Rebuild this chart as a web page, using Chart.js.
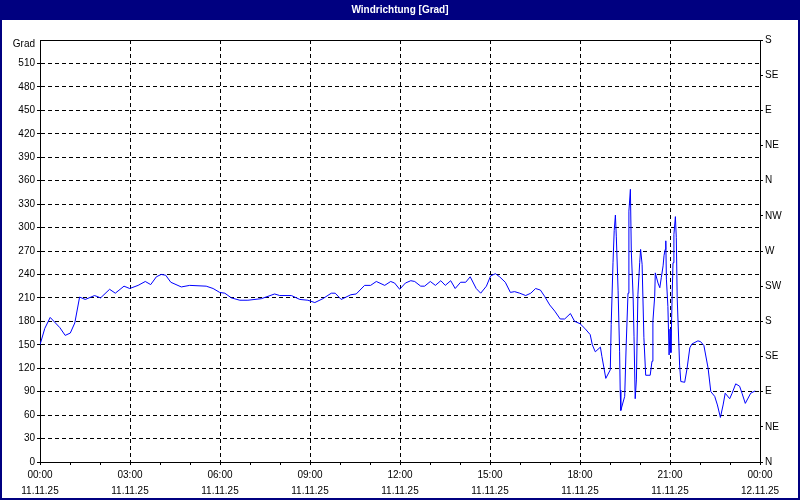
<!DOCTYPE html>
<html>
<head>
<meta charset="utf-8">
<script src="https://cdn.jsdelivr.net/npm/chart.js@4"></script>
<style>
html,body{margin:0;padding:0;background:#fff;}
#wrap{width:800px;height:500px;position:relative;}
canvas{display:block;}
</style>
</head>
<body>
<div id="wrap"><canvas id="c" width="800" height="500"></canvas></div>
<script>
const chartTitle = 'Windrichtung [Grad]';
const axisUnit = 'Grad';
// time in hours since 11.11.25 00:00
const hours = [0,0.16,0.34,0.66,0.84,1.01,1.16,1.32,1.51,1.82,2.02,2.32,2.51,2.8,2.99,3.27,3.51,3.69,3.88,4.04,4.19,4.36,4.71,4.99,5.54,5.77,5.99,
 6.16,6.38,6.66,6.93,7.38,7.82,7.99,8.38,8.66,8.93,9.16,9.43,9.71,9.84,10.04,10.36,10.54,10.82,11.02,11.21,11.49,11.69,11.82,11.99,
 12.18,12.36,12.49,12.69,12.82,13.01,13.18,13.36,13.51,13.69,13.84,14.02,14.19,14.34,14.54,14.69,14.88,15.02,15.18,15.32,15.51,15.68,15.82,15.99,
 16.19,16.36,16.52,16.68,16.82,16.99,17.16,17.34,17.49,17.68,17.82,18.0,
 18.16,18.34,18.41,18.51,18.68,18.73,18.8,18.86,19.01,19.04,19.1,19.14,19.18,19.21,19.27,19.32,19.34,19.36,19.49,19.54,19.6,19.63,19.68,19.71,19.77,19.8,19.84,19.88,19.93,19.99,
 20.02,20.07,20.13,20.19,20.34,20.4,20.43,20.49,20.51,20.6,20.66,20.71,20.77,20.8,20.84,20.86,20.88,20.93,20.97,21.0,21.03,21.07,21.1,21.13,21.18,21.21,21.24,21.32,21.36,21.49,21.57,21.66,21.73,21.93,
 22.02,22.13,22.27,22.36,22.49,22.58,22.68,22.77,22.84,22.99,23.07,23.19,23.32,23.4,23.51,23.69,23.84];
const degrees = [150,171,185,172,162,165,178,211,208,213,210,221,216,225,222,226,231,227,237,240,239,230,224,226,225,222,217,
 216,210,207,207,209,215,213,213,208,207,204,209,216,216,208,214,215,226,226,231,226,231,229,221,
 229,232,231,225,225,231,226,232,226,232,222,230,230,237,222,216,225,238,241,237,230,217,218,216,
 213,216,222,220,212,201,193,183,183,190,180,177,
 171,163,150,141,147,135,120,107,118,176,255,296,316,289,219,141,92,66,84,150,216,321,349,270,212,161,81,105,214,255,
 272,253,159,111,111,129,180,212,242,229,223,236,251,264,272,283,234,199,137,170,140,210,255,291,314,287,210,124,103,102,120,146,151,155,
 154,149,120,90,84,73,57,73,88,81,88,100,97,88,75,88,91];
const timeLabels = {0:'00:00',3:'03:00',6:'06:00',9:'09:00',12:'12:00',15:'15:00',18:'18:00',21:'21:00',24:'00:00'};
const dateLabels = {0:'11.11.25',3:'11.11.25',6:'11.11.25',9:'11.11.25',12:'11.11.25',15:'11.11.25',18:'11.11.25',21:'11.11.25',24:'12.11.25'};
const compassLabels = ['N','NE','E','SE','S','SW','W','NW','N','NE','E','SE','S'];

const NAVY = '#000080';
const framePlugin = {
  id: 'frame',
  beforeDraw(chart) {
    const c = chart.ctx;
    c.save();
    c.fillStyle = '#ffffff';
    c.fillRect(0, 0, chart.width, chart.height);
    c.fillStyle = NAVY;
    c.fillRect(0, 0, chart.width, 20);
    c.fillRect(0, 0, 2, chart.height);
    c.fillRect(chart.width - 2, 0, 2, chart.height);
    c.fillRect(0, chart.height - 2, chart.width, 2);
    c.restore();
  }
};

const font = {family: "'Liberation Sans', Arial, sans-serif", size: 10};

new Chart(document.getElementById('c'), {
  type: 'line',
  data: {
    datasets: [{
      data: hours.map((h, i) => ({x: h, y: degrees[i]})),
      borderColor: '#0000ff',
      borderWidth: 1,
      pointRadius: 0,
      tension: 0,
      fill: false,
      yAxisID: 'y'
    }]
  },
  plugins: [framePlugin],
  options: {
    responsive: false,
    animation: false,
    layout: {padding: {left: 0, right: 0, top: 0, bottom: 0}},
    plugins: {
      legend: {display: false},
      tooltip: {enabled: false},
      title: {
        display: true,
        text: chartTitle,
        color: '#ffffff',
        font: {family: "'Liberation Sans', Arial, sans-serif", size: 10, weight: 'bold', lineHeight: 1.2},
        padding: {top: 4, bottom: 24}
      }
    },
    scales: {
      x: {
        type: 'linear',
        min: 0, max: 24,
        afterFit: s => { s.height = 38; },
        ticks: {
          stepSize: 1,
          autoSkip: false,
          maxRotation: 0, minRotation: 0,
          color: '#000',
          font: Object.assign({lineHeight: 1.6}, font),
          padding: 2,
          callback: v => (timeLabels[v] !== undefined ? [timeLabels[v], dateLabels[v]] : '')
        },
        grid: {
          color: ctx => (ctx.tick && ctx.tick.value % 3 === 0) ? '#000' : 'rgba(0,0,0,0)',
          tickColor: '#000',
          tickLength: 3,
          lineWidth: 1
        },
        border: {display: true, color: '#000', width: 1, dash: ctx => (ctx.tick && (ctx.tick.value === 0 || ctx.tick.value === 24)) ? [] : [4, 3]}
      },
      y: {
        position: 'left',
        min: 0, max: 540,
        afterFit: s => { s.width = 40; },
        ticks: {
          stepSize: 30,
          color: '#000',
          font: Object.assign({lineHeight: 0.8}, font),
          padding: 2,
          callback: v => (v === 540 ? ['', axisUnit] : String(v))
        },
        grid: {
          color: '#000',
          tickColor: ctx => (ctx.tick && ctx.tick.value === 540) ? 'rgba(0,0,0,0)' : '#000',
          tickLength: 3,
          lineWidth: 1
        },
        border: {display: true, color: '#000', width: 1, dash: ctx => (ctx.tick && (ctx.tick.value === 0 || ctx.tick.value === 540)) ? [] : [4, 3]}
      },
      y2: {
        position: 'right',
        min: 0, max: 540,
        afterFit: s => { s.width = 40; },
        ticks: {
          stepSize: 45,
          color: '#000',
          font: font,
          padding: 2,
          callback: (v) => compassLabels[Math.round(v / 45)]
        },
        grid: {drawOnChartArea: false, tickColor: '#000', tickLength: 3},
        border: {display: true, color: '#000', width: 1}
      }
    }
  }
});
</script>
</body>
</html>
